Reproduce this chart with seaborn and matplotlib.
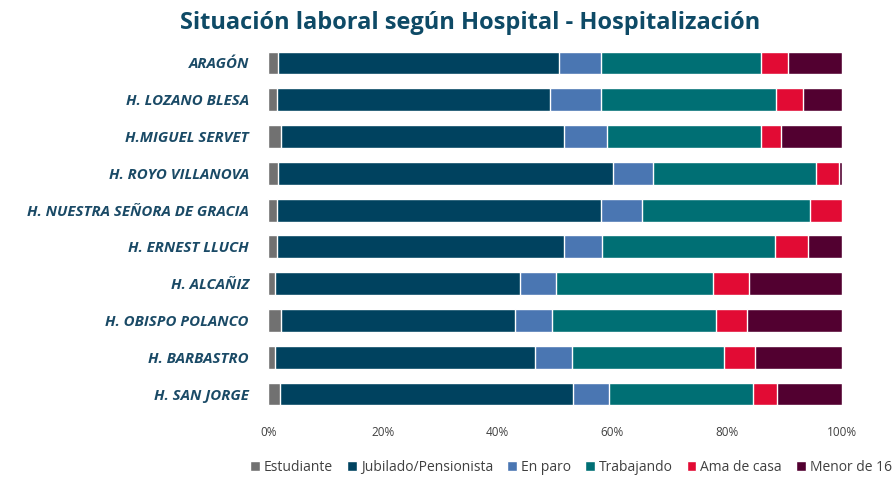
import pandas as pd
import matplotlib.pyplot as plt
import seaborn as sns

sns.set_theme(style="white")
plt.rcParams['font.family'] = ['Open Sans', 'DejaVu Sans']

# Data (percentages)
hospitals = ["ARAGÓN", "H. LOZANO BLESA", "H.MIGUEL SERVET", "H. ROYO VILLANOVA",
             "H. NUESTRA SEÑORA DE GRACIA", "H. ERNEST LLUCH", "H. ALCAÑIZ",
             "H. OBISPO POLANCO", "H. BARBASTRO", "H. SAN JORGE"]
estudiante = [1.7, 1.5, 2.2, 1.7, 1.5, 1.5, 1.2, 2.2, 1.2, 2.0]
jubilado = [49.0, 47.7, 49.4, 58.4, 56.6, 50.1, 42.7, 40.9, 45.3, 51.2]
en_paro = [7.4, 8.9, 7.5, 7.0, 7.1, 6.6, 6.3, 6.4, 6.4, 6.2]
trabajando = [27.9, 30.5, 26.8, 28.4, 29.3, 30.1, 27.4, 28.5, 26.6, 25.2]
ama_de_casa = [4.6, 4.7, 3.5, 4.0, 5.5, 5.9, 6.2, 5.4, 5.3, 4.1]
menor_16 = [9.4, 6.7, 10.6, 0.5, 0.0, 5.8, 16.2, 16.6, 15.2, 11.3]

categories = ["Estudiante", "Jubilado/Pensionista", "En paro", "Trabajando",
              "Ama de casa", "Menor de 16"]
colors = ["#717171", "#00425f", "#4a76b2", "#006f74", "#e20b34", "#520030"]

df = pd.DataFrame({
    "Hospital": hospitals,
    "Estudiante": estudiante,
    "Jubilado/Pensionista": jubilado,
    "En paro": en_paro,
    "Trabajando": trabajando,
    "Ama de casa": ama_de_casa,
    "Menor de 16": menor_16,
})

fig = plt.figure(figsize=(8.95, 4.78), dpi=100)
ax = fig.add_axes([0.2998, 0.1372, 0.6407, 0.7695])

# stacked bars, drawn from the widest cumulative to the narrowest
cum = df[categories].cumsum(axis=1)
for cat, col in reversed(list(zip(categories, colors))):
    sns.barplot(x=cum[cat], y=df["Hospital"], color=col, width=0.62,
                orient="h", ax=ax, label=cat, saturation=1)

ax.set_xlim(0, 100)
ax.set_ylim(9.5, -0.5)
ax.set_xticks([0, 20, 40, 60, 80, 100])
ax.set_xticklabels(["0%", "20%", "40%", "60%", "80%", "100%"], fontsize=8.5,
                   color="#404040")
ax.tick_params(axis="x", length=0, pad=10)
ax.tick_params(axis="y", length=0, pad=14)
for lbl in ax.get_yticklabels():
    lbl.set_fontsize(10.8)
    lbl.set_fontweight("bold")
    lbl.set_fontstyle("italic")
    lbl.set_color("#1a4a66")
ax.set_xlabel("")
ax.set_ylabel("")
for s in ax.spines.values():
    s.set_visible(False)

handles, labels = ax.get_legend_handles_labels()
order = [labels.index(c) for c in categories]
ax.legend([handles[i] for i in order], categories, loc="center",
          bbox_to_anchor=(0.638, 0.022), bbox_transform=fig.transFigure,
          ncol=6, frameon=False, fontsize=10, handlelength=0.7, handleheight=0.7,
          handletextpad=0.3, columnspacing=1.0, labelcolor="#404040")

fig.suptitle("Situación laboral según Hospital - Hospitalización", x=0.525, y=0.978,
             fontsize=17, fontweight="bold", color="#0e4a66")

plt.savefig("out.png", dpi=100)
